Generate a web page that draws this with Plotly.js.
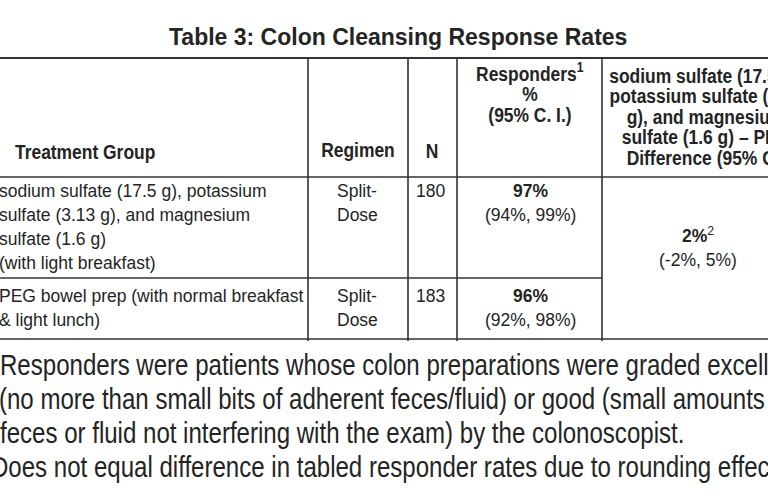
<!DOCTYPE html>
<html>
<head>
<meta charset="utf-8">
<script src="https://cdn.plot.ly/plotly-3.0.1.min.js"></script>
<style>html,body{margin:0;padding:0;background:#fff;}#chart{width:768px;height:500px;}</style>
</head>
<body>
<div id="chart"></div>
<script>
// ---- data ----
const tableTitle = "Table 3: Colon Cleansing Response Rates";
const headerGroup = "Treatment Group";
const headerRegimen = "Regimen";
const headerN = "N";
const headerResponders = ["Responders<sup>1</sup>", "%", "(95% C. I.)"];
const headerDiff = ["sodium sulfate (17.5 g),", "potassium sulfate (3.13", "g), and magnesium", "sulfate (1.6 g) \u2013 PEG", "Difference (95% CI)"];
const groupLines = [
  ["sodium sulfate (17.5 g), potassium", "sulfate (3.13 g), and magnesium", "sulfate (1.6 g)", "(with light breakfast)"],
  ["PEG bowel prep (with normal breakfast", "& light lunch)"]
];
const regimens = [["Split-", "Dose"], ["Split-", "Dose"]];
const nValues = [180, 183];
const responderPct = [97, 96];
const ciLow = [94, 92];
const ciHigh = [99, 98];
const diffPct = 2;
const diffLow = -2;
const diffHigh = 5;
const footnotes = [
  "Responders were patients whose colon preparations were graded excellent",
  "(no more than small bits of adherent feces/fluid) or good (small amounts of",
  "feces or fluid not interfering with the exam) by the colonoscopist.",
  "Does not equal difference in tabled responder rates due to rounding effects."
];

// ---- styling ----
const ink = "#242424";
const lineCol = "#333333";
const sans = "'Liberation Sans', Arial, Helvetica, sans-serif";
const bodyFont = {family: sans, size: 17.5, color: ink};
const headFont = {family: sans, size: 21, color: ink};
const footFont = {family: sans, size: 29, color: ink};
const annotations = [];
const scales = [];
const anchors = [];
function add(text, x, y, font, xanchor, scale, xshift) {
  annotations.push({text: text, x: x, y: y, xref: "x", yref: "y", showarrow: false,
    xanchor: xanchor || "center", yanchor: "middle", font: font, align: xanchor || "center",
    xshift: xshift || 0});
  scales.push(scale || 1);
  anchors.push(xanchor || "center");
}

// title
add("<b>" + tableTitle + "</b>", 398, 37, {family: sans, size: 23, color: ink});

// headers (bold condensed)
const hs = 0.83;
add("<b>" + headerGroup + "</b>", 15, 151, headFont, "left", hs);
add("<b>" + headerRegimen + "</b>", 358, 149, headFont, "center", hs);
add("<b>" + headerN + "</b>", 432, 150, headFont, "center", hs);
headerResponders.forEach((t, i) => add("<b>" + t + "</b>", 530, 72 + i * 21, headFont, "center", hs));
headerDiff.forEach((t, i) => add("<b>" + t + "</b>", 706, 75 + i * 20.5, headFont, "center", hs));

// rows
const rowFirst = [191, 296];
const lineStep = 24;
groupLines.forEach((lines, r) => {
  lines.forEach((t, i) => add(t, 0, rowFirst[r] + i * lineStep, bodyFont, "left", 1, -3));
  regimens[r].forEach((t, i) => add(t, 357, rowFirst[r] + i * lineStep, bodyFont));
  add(String(nValues[r]), 414, rowFirst[r], bodyFont, "left");
  add("<b>" + responderPct[r] + "%</b>", 530, rowFirst[r], bodyFont);
  add("(" + ciLow[r] + "%, " + ciHigh[r] + "%)", 530, rowFirst[r] + lineStep, bodyFont);
});
add("<b>" + diffPct + "%</b><sup>2</sup>", 698, 235, bodyFont);
add("(" + diffLow + "%, " + diffHigh + "%)", 698, 260, bodyFont);

// footnotes (condensed)
const footShift = [0, -1, 0, -9];
footnotes.forEach((t, i) => add(t, 0, 365 + i * 34, footFont, "left", 0.83, footShift[i]));

// grid lines
const shapes = [];
function hline(y, x0, x1, w) { shapes.push({type: "line", xref: "x", yref: "y", x0: x0, x1: x1, y0: y, y1: y, line: {color: lineCol, width: w}}); }
function vline(x, y0, y1, w) { shapes.push({type: "line", xref: "x", yref: "y", x0: x, x1: x, y0: y0, y1: y1, line: {color: lineCol, width: w}}); }
hline(58, 0, 768, 2);
hline(177, 0, 768, 1.6);
hline(278, 0, 602, 1.6);
hline(339, 0, 768, 1.6);
[308, 408, 457, 602].forEach(x => vline(x, 58, 341, 1.6));

const layout = {
  width: 768, height: 500,
  margin: {l: 0, r: 0, t: 0, b: 0},
  paper_bgcolor: "#ffffff", plot_bgcolor: "#ffffff",
  xaxis: {range: [0, 768], visible: false, fixedrange: true},
  yaxis: {range: [500, 0], visible: false, fixedrange: true},
  showlegend: false,
  annotations: annotations,
  shapes: shapes
};

// narrow the condensed texts horizontally, pinning their anchor (left edge or centre)
// to the position given by the x axis
function condense(gd) {
  const fl = gd._fullLayout;
  const base = gd.getBoundingClientRect().left + fl._size.l;
  gd.querySelectorAll("g.annotation").forEach(g => {
    const idx = +g.getAttribute("data-index");
    const s = scales[idx];
    if (!s || s === 1) return;
    const t = g.querySelector("text.annotation-text");
    if (!t) return;
    const a = annotations[idx];
    const target = base + fl.xaxis.l2p(a.x) + (a.xshift || 0);
    const existing = t.getAttribute("transform") || "";
    t.setAttribute("transform", existing + " scale(" + s + ",1)");
    const r1 = t.getBoundingClientRect();
    const dx = anchors[idx] === "left" ? (target - r1.left) : (target - (r1.left + r1.width / 2));
    t.setAttribute("transform", "translate(" + dx + ",0) " + existing + " scale(" + s + ",1)");
  });
}

Plotly.newPlot("chart", [{x: [], y: [], type: "scatter", hoverinfo: "skip"}], layout,
  {staticPlot: true, displayModeBar: false}).then(condense);
</script>
</body>
</html>
